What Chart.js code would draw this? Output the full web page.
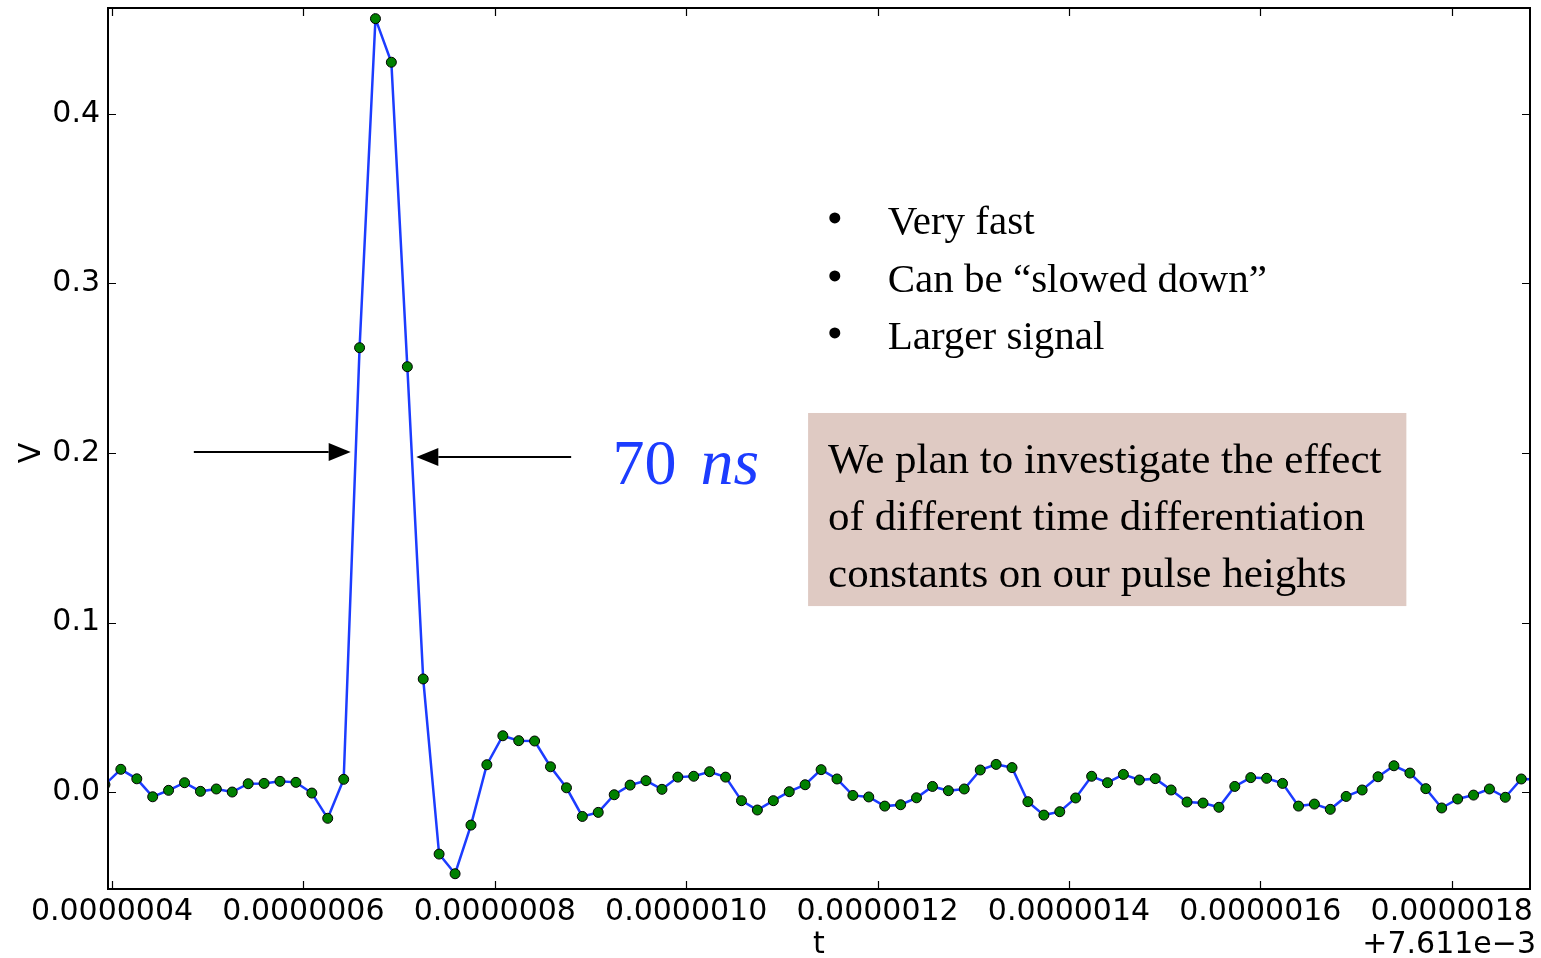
<!DOCTYPE html>
<html>
<head>
<meta charset="utf-8">
<script src="https://cdn.jsdelivr.net/npm/chart.js@4/dist/chart.umd.min.js"></script>
<style>
html,body{margin:0;padding:0;background:#ffffff;}
#wrap{width:1541px;height:958px;position:relative;}
canvas{display:block;}
</style>
</head>
<body>
<div id="wrap"><canvas id="c" width="1541" height="958"></canvas></div>
<script>
// ---- data (time in ns, relative to offset +7.611e-3 s) ----
const timeNs = [
  392.6, 409.2, 425.9, 442.5, 459.1, 475.8, 492.4, 509.0, 525.6, 542.3,
  558.9, 575.5, 592.2, 608.8, 625.4, 642.1, 658.7, 675.3, 691.9, 708.6,
  725.2, 741.8, 758.5, 775.1, 791.7, 808.4, 825.0, 841.6, 858.2, 874.9,
  891.5, 908.1, 924.8, 941.4, 958.0, 974.7, 991.3, 1007.9, 1024.5, 1041.2,
  1057.8, 1074.4, 1091.1, 1107.7, 1124.3, 1141.0, 1157.6, 1174.2, 1190.8, 1207.5,
  1224.1, 1240.7, 1257.4, 1274.0, 1290.6, 1307.3, 1323.9, 1340.5, 1357.1, 1373.8,
  1390.4, 1407.0, 1423.7, 1440.3, 1456.9, 1473.6, 1490.2, 1506.8, 1523.4, 1540.1,
  1556.7, 1573.3, 1590.0, 1606.6, 1623.2, 1639.9, 1656.5, 1673.1, 1689.7, 1706.4,
  1723.0, 1739.6, 1756.3, 1772.9, 1789.5, 1806.2, 1822.8, 1839.4, 1856.0, 1872.7,
  1889.3
];
const voltage = [
  0.0044, 0.0134, 0.0078, -0.0028, 0.0010, 0.0055, 0.0004, 0.0018, 0.0000, 0.0049,
  0.0051, 0.0063, 0.0057, -0.0006, -0.0155, 0.0075, 0.2621, 0.4562, 0.4305, 0.2509,
  0.0667, -0.0366, -0.0482, -0.0195, 0.0161, 0.0332, 0.0303, 0.0301, 0.0149, 0.0025,
  -0.0144, -0.0120, -0.0016, 0.0041, 0.0067, 0.0016, 0.0088, 0.0093, 0.0120, 0.0088,
  -0.0051, -0.0106, -0.0051, 0.0002, 0.0043, 0.0132, 0.0077, -0.0020, -0.0029, -0.0083,
  -0.0075, -0.0034, 0.0033, 0.0008, 0.0018, 0.0130, 0.0163, 0.0144, -0.0057, -0.0136,
  -0.0116, -0.0035, 0.0093, 0.0055, 0.0104, 0.0071, 0.0079, 0.0012, -0.0059, -0.0065,
  -0.0090, 0.0033, 0.0085, 0.0081, 0.0051, -0.0083, -0.0071, -0.0102, -0.0026, 0.0012,
  0.0090, 0.0155, 0.0112, 0.0020, -0.0094, -0.0041, -0.0018, 0.0018, -0.0031, 0.0077,
  0.0075
];
const xTickValuesNs = [400, 600, 800, 1000, 1200, 1400, 1600, 1800];
const yTickValues = [0.0, 0.1, 0.2, 0.3, 0.4];
const xRange = [395.8, 1881.8];
const yRange = [-0.0572, 0.4625];
const xTitle = 't';
const yTitle = 'V';
const xOffsetText = '+7.611e\u22123';
const bulletItems = ['Very fast', 'Can be \u201Cslowed down\u201D', 'Larger signal'];
const boxLines = ['We plan to investigate the effect', 'of different time differentiation', 'constants on our pulse heights'];
const widthLabelNumber = '70';
const widthLabelUnit = 'ns';

// annotation anchors in data coordinates (ns, V)
const arrowLeft = {from: [485.5, 0.2006], to: [649.4, 0.2006]};
const arrowRight = {from: [879.8, 0.1976], to: [718.0, 0.1976]};
const widthLabelAt = [922.9, 0.1817];
const bulletDotX = 1155.3, bulletTextX = 1210.6;
const bulletBaselines = [0.3292, 0.2950, 0.2614];
const boxRect = {x0: 1127.4, x1: 1752.6, y0: 0.2236, y1: 0.1097};
const boxTextX = 1148.3;
const boxBaselines = [0.1882, 0.1546, 0.1209];

const BLUE = '#1c3cff';
const TICK_FONT = '30px "DejaVu Sans"';

const decor = {
  id: 'decor',
  afterDatasetsDraw(chart) {
    const ctx = chart.ctx, a = chart.chartArea;
    const xs = chart.scales.x, ys = chart.scales.y;
    ctx.save();
    // inward tick marks on all four sides
    ctx.strokeStyle = '#000';
    ctx.lineWidth = 1.2;
    ctx.beginPath();
    xTickValuesNs.forEach(v => {
      const px = Math.round(xs.getPixelForValue(v)) + 0.5;
      ctx.moveTo(px, a.bottom); ctx.lineTo(px, a.bottom - 8);
      ctx.moveTo(px, a.top); ctx.lineTo(px, a.top + 8);
    });
    yTickValues.forEach(v => {
      const py = Math.round(ys.getPixelForValue(v)) + 0.5;
      ctx.moveTo(a.left, py); ctx.lineTo(a.left + 8, py);
      ctx.moveTo(a.right, py); ctx.lineTo(a.right - 8, py);
    });
    ctx.stroke();
    // spines
    ctx.lineWidth = 2;
    ctx.strokeRect(a.left, a.top, a.right - a.left, a.bottom - a.top);
    ctx.restore();
  },
  afterDraw(chart) {
    const ctx = chart.ctx, a = chart.chartArea;
    const xs = chart.scales.x, ys = chart.scales.y;
    const X = v => xs.getPixelForValue(v), Y = v => ys.getPixelForValue(v);
    ctx.save();
    // axis titles and offset
    ctx.fillStyle = '#000';
    ctx.font = TICK_FONT;
    ctx.textAlign = 'center';
    ctx.textBaseline = 'alphabetic';
    ctx.fillText(xTitle, (a.left + a.right) / 2, 953);
    ctx.textAlign = 'right';
    ctx.fillText(xOffsetText, a.right + 6, 953);
    ctx.save();
    ctx.translate(40, Y(0.2));
    ctx.rotate(-Math.PI / 2);
    ctx.textAlign = 'center';
    ctx.fillText(yTitle, 0, 0);
    ctx.restore();

    // arrows
    function arrow(from, to) {
      const x0 = X(from[0]), y0 = Y(from[1]), x1 = X(to[0]), y1 = Y(to[1]);
      const dir = Math.sign(x1 - x0);
      const headL = 22, headW = 9;
      ctx.strokeStyle = '#000';
      ctx.lineWidth = 2;
      ctx.beginPath();
      ctx.moveTo(x0, y0); ctx.lineTo(x1 - dir * headL, y1);
      ctx.stroke();
      ctx.fillStyle = '#000';
      ctx.beginPath();
      ctx.moveTo(x1, y1);
      ctx.lineTo(x1 - dir * headL, y1 - headW);
      ctx.lineTo(x1 - dir * headL, y1 + headW);
      ctx.closePath();
      ctx.fill();
    }
    arrow(arrowLeft.from, arrowLeft.to);
    arrow(arrowRight.from, arrowRight.to);

    // 70 ns label
    ctx.fillStyle = BLUE;
    ctx.textAlign = 'left';
    ctx.textBaseline = 'alphabetic';
    ctx.font = '64px "Liberation Serif"';
    const lx = X(widthLabelAt[0]), ly = Y(widthLabelAt[1]);
    ctx.fillText(widthLabelNumber, lx, ly);
    const w70 = ctx.measureText(widthLabelNumber + ' ').width;
    ctx.font = 'italic 66px "Liberation Serif"';
    ctx.fillText(widthLabelUnit, lx + w70 + 8, ly);

    // bullets
    ctx.fillStyle = '#000';
    ctx.font = '41px "Liberation Serif"';
    bulletItems.forEach((t, i) => {
      const by = Y(bulletBaselines[i]);
      ctx.beginPath();
      ctx.arc(X(bulletDotX), by - 16, 5.5, 0, Math.PI * 2);
      ctx.fill();
      ctx.fillText(t, X(bulletTextX), by);
    });

    // shaded box
    ctx.fillStyle = '#dfcac3';
    const bx0 = X(boxRect.x0), bx1 = X(boxRect.x1), by0 = Y(boxRect.y0), by1 = Y(boxRect.y1);
    ctx.fillRect(bx0, by0, bx1 - bx0, by1 - by0);
    ctx.fillStyle = '#000';
    ctx.font = '43px "Liberation Serif"';
    boxLines.forEach((t, i) => ctx.fillText(t, X(boxTextX), Y(boxBaselines[i])));
    ctx.restore();
  }
};

const points = timeNs.map((t, i) => ({x: t, y: voltage[i]}));

new Chart(document.getElementById('c'), {
  type: 'line',
  data: {
    datasets: [{
      data: points,
      borderColor: BLUE,
      borderWidth: 2.5,
      tension: 0,
      fill: false,
      pointRadius: 5,
      pointBorderWidth: 1,
      pointBackgroundColor: '#008000',
      pointBorderColor: '#000000',
      clip: 0
    }]
  },
  options: {
    responsive: false,
    animation: false,
    devicePixelRatio: 1,
    layout: {padding: {top: 8, right: 11, left: 0, bottom: 0}},
    plugins: {legend: {display: false}, tooltip: {enabled: false}},
    scales: {
      x: {
        type: 'linear', min: xRange[0], max: xRange[1],
        grid: {display: false, drawTicks: false},
        border: {display: false},
        ticks: {
          stepSize: 200, includeBounds: false, autoSkip: false, maxRotation: 0, minRotation: 0,
          padding: 5, color: '#000', font: {family: 'DejaVu Sans', size: 30},
          callback: v => (v * 1e-9).toFixed(7)
        },
        afterFit(s) { s.height = 69; s.paddingLeft = 0; s.paddingRight = 0; }
      },
      y: {
        type: 'linear', min: yRange[0], max: yRange[1],
        grid: {display: false, drawTicks: false},
        border: {display: false},
        ticks: {
          stepSize: 0.1, includeBounds: false, padding: 8, color: '#000',
          font: {family: 'DejaVu Sans', size: 30},
          callback: v => v.toFixed(1)
        },
        afterFit(s) { s.width = 108; s.paddingTop = 0; s.paddingBottom = 0; }
      }
    }
  },
  plugins: [decor]
});
</script>
</body>
</html>
